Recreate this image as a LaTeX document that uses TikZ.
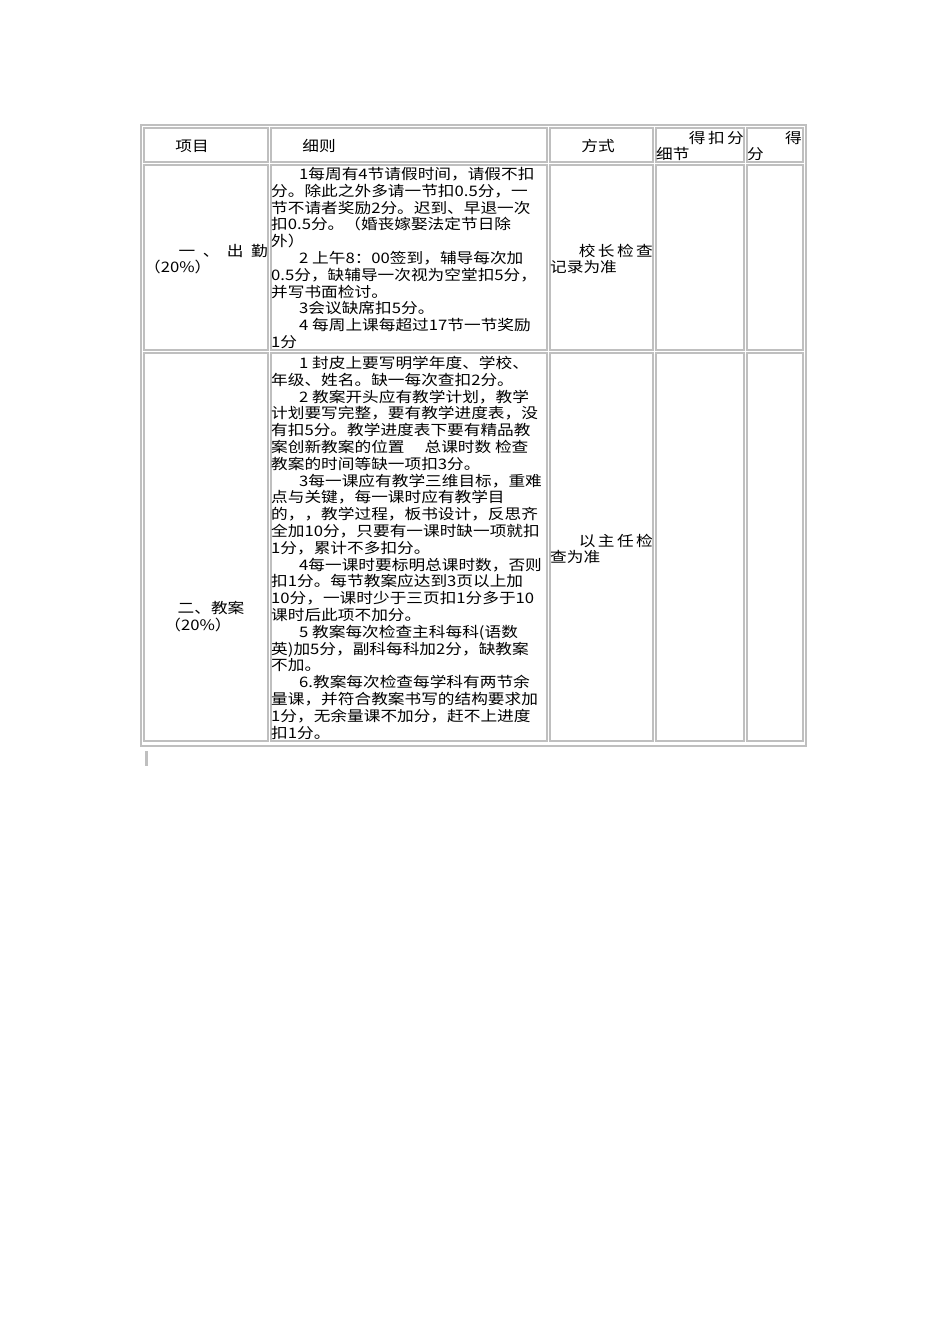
\documentclass[tikz,border=0pt]{standalone}
\usepackage{fontspec}
\setmainfont[FakeStretch=1.15]{Noto Sans CJK SC}
\begin{document}
\begin{tikzpicture}[x=1pt,y=-1pt,
  cell/.style={draw=black!25,line width=1.2pt},
  txt/.style={inner sep=0pt,font=\fontsize{14.5}{16.8}\selectfont,align=left},
  lbl/.style={inner sep=0pt,font=\fontsize{14.5}{16.8}\selectfont}]
\useasboundingbox[fill=white] (0,0) rectangle (950,1344);
\draw[cell,line width=2pt] (141,125) rectangle (806,746);
% cells
\foreach \xa/\xb in {144/268,271/547,550/653,656/744,747/803}{
  \foreach \ya/\yb in {128/162,165/350,353/741}{
    \draw[cell] (\xa,\ya) rectangle (\xb,\yb);
  }}
\fill[black!25] (145,751) rectangle (148,766);
% header
\node[lbl] (h1) at (192,146) {项目};
\node[lbl] (h2) at (319,146) {细则};
\node[lbl] (h3) at (598,146) {方式};
\node[lbl,anchor=east] (h4a) at (744,138) {得\,扣\,分};
\node[lbl,anchor=west] (h4b) at (656,154) {细节};
\node[lbl,anchor=east] (h5a) at (802,138) {得};
\node[lbl,anchor=west] (h5b) at (747,154) {分};
% row 1
\node[lbl,anchor=east] (a1) at (268,251) {一\ \ 、\ \ 出\ \ 勤};
\node[lbl,anchor=west] (a2) at (144,267) {（20\%）};
\node[txt,anchor=north west] (b1) at (271,167) {%
\hspace*{28pt}1每周有4节请假时间，请假不扣\\
分。除此之外多请一节扣0.5分，一\\
节不请者奖励2分。迟到、早退一次\\
扣0.5分。（婚丧嫁娶法定节日除\\
外）\\
\hspace*{28pt}2 上午8：00签到，辅导每次加\\
0.5分，缺辅导一次视为空堂扣5分，\\
并写书面检讨。\\
\hspace*{28pt}3会议缺席扣5分。\\
\hspace*{28pt}4 每周上课每超过17节一节奖励\\
1分};
\node[lbl,anchor=east] (c1) at (653,251) {校\,长\,检\,查};
\node[lbl,anchor=west] (c2) at (550,267) {记录为准};
% row 2
\node[lbl] (d1) at (211,608) {二、教案};
\node[lbl] (d2) at (198,625) {（20\%）};
\node[txt,anchor=north west] (e1) at (271,356) {%
\hspace*{28pt}1 封皮上要写明学年度、学校、\\
年级、姓名。缺一每次查扣2分。\\
\hspace*{28pt}2 教案开头应有教学计划，教学\\
计划要写完整，要有教学进度表，没\\
有扣5分。教学进度表下要有精品教\\
案创新教案的位置\hspace{20pt}总课时数 检查\\
教案的时间等缺一项扣3分。\\
\hspace*{28pt}3每一课应有教学三维目标，重难\\
点与关键，每一课时应有教学目\\
的，，教学过程，板书设计，反思齐\\
全加10分，只要有一课时缺一项就扣\\
1分，累计不多扣分。\\
\hspace*{28pt}4每一课时要标明总课时数，否则\\
扣1分。每节教案应达到3页以上加\\
10分，一课时少于三页扣1分多于10\\
课时后此项不加分。\\
\hspace*{28pt}5 教案每次检查主科每科(语数\\
英)加5分，副科每科加2分，缺教案\\
不加。\\
\hspace*{28pt}6.教案每次检查每学科有两节余\\
量课，并符合教案书写的结构要求加\\
1分，无余量课不加分，赶不上进度\\
扣1分。};
\node[lbl,anchor=east] (f1) at (653,541) {以\,主\,任\,检};
\node[lbl,anchor=west] (f2) at (550,557) {查为准};
\end{tikzpicture}
\end{document}
